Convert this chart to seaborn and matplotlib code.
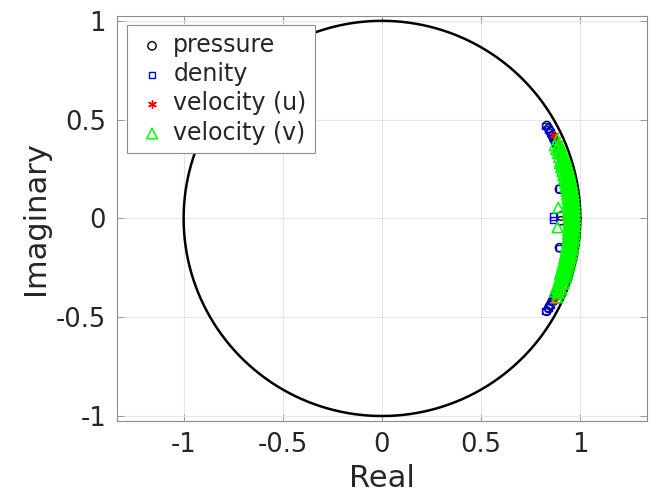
import numpy as np
import pandas as pd
import matplotlib
matplotlib.use("Agg")
import matplotlib.pyplot as plt
import seaborn as sns

# Eigenvalues of the amplification matrix, per variable (real, imaginary)
pressure_re = [0.831, 0.840, 0.848, 0.858, 0.867, 0.876, 0.885, 0.892, 0.900, 0.907,
               0.916, 0.924, 0.932, 0.938, 0.895, 0.947, 0.951, 0.953, 0.955, 0.902,
               0.831, 0.840, 0.848, 0.858, 0.867, 0.876, 0.885, 0.892, 0.900, 0.907,
               0.916, 0.924, 0.932, 0.938, 0.895, 0.947, 0.951, 0.953, 0.955, 0.902]
pressure_im = [0.470, 0.455, 0.440, 0.420, 0.400, 0.380, 0.360, 0.340, 0.320, 0.300,
               0.270, 0.240, 0.210, 0.180, 0.148, 0.120, 0.090, 0.060, 0.030, 0.012,
               -0.470, -0.455, -0.440, -0.420, -0.400, -0.380, -0.360, -0.340, -0.320, -0.300,
               -0.270, -0.240, -0.210, -0.180, -0.148, -0.120, -0.090, -0.060, -0.030, -0.012]

density_re = [0.826, 0.838, 0.850, 0.860, 0.870, 0.879, 0.887, 0.896, 0.904, 0.912,
              0.920, 0.928, 0.936, 0.893, 0.942, 0.945, 0.949, 0.952, 0.955, 0.864,
              0.826, 0.838, 0.850, 0.860, 0.870, 0.879, 0.887, 0.896, 0.904, 0.912,
              0.920, 0.928, 0.936, 0.893, 0.942, 0.945, 0.949, 0.952, 0.955, 0.864]
density_im = [0.468, 0.452, 0.436, 0.414, 0.392, 0.372, 0.350, 0.328, 0.306, 0.284,
              0.255, 0.226, 0.196, 0.150, 0.165, 0.135, 0.105, 0.075, 0.045, 0.008,
              -0.468, -0.452, -0.436, -0.414, -0.392, -0.372, -0.350, -0.328, -0.306, -0.284,
              -0.255, -0.226, -0.196, -0.150, -0.165, -0.135, -0.105, -0.075, -0.045, -0.008]

velocity_u_re = [0.869, 0.878, 0.887, 0.895, 0.903, 0.910, 0.917, 0.923, 0.929,
                 0.935, 0.940, 0.946, 0.952, 0.956, 0.960, 0.962, 0.964, 0.965,
                 0.869, 0.878, 0.887, 0.895, 0.903, 0.910, 0.917, 0.923, 0.929,
                 0.935, 0.940, 0.946, 0.952, 0.956, 0.960, 0.962, 0.964, 0.965]
velocity_u_im = [0.420, 0.400, 0.380, 0.360, 0.340, 0.320, 0.300, 0.280, 0.260,
                 0.240, 0.220, 0.190, 0.160, 0.130, 0.100, 0.070, 0.040, 0.010,
                 -0.420, -0.400, -0.380, -0.360, -0.340, -0.320, -0.300, -0.280, -0.260,
                 -0.240, -0.220, -0.190, -0.160, -0.130, -0.100, -0.070, -0.040, -0.010]

velocity_v_re = [0.884, 0.892, 0.906, 0.885, 0.917, 0.896, 0.928, 0.907,
                 0.934, 0.913, 0.897, 0.940, 0.919, 0.903, 0.945, 0.924, 0.909,
                 0.950, 0.929, 0.914, 0.954, 0.934, 0.918, 0.958, 0.938, 0.923,
                 0.962, 0.941, 0.926, 0.965, 0.945, 0.930, 0.968, 0.947, 0.932,
                 0.970, 0.950, 0.935, 0.972, 0.952, 0.937, 0.973, 0.953, 0.938,
                 0.974, 0.954, 0.939, 0.975, 0.955, 0.940, 0.975, 0.955, 0.940,
                 0.889, 0.885,
                 0.974, 0.954, 0.939, 0.975, 0.955, 0.940,
                 0.973, 0.953, 0.938, 0.972, 0.952, 0.937, 0.970, 0.950, 0.935,
                 0.968, 0.947, 0.932, 0.965, 0.945, 0.930, 0.962, 0.941, 0.926,
                 0.958, 0.938, 0.923, 0.954, 0.934, 0.918, 0.950, 0.929, 0.914,
                 0.945, 0.924, 0.909, 0.940, 0.919, 0.903, 0.934, 0.913, 0.897,
                 0.928, 0.907, 0.917, 0.896, 0.906, 0.885, 0.892, 0.884,
                 0.891, 0.870, 0.899, 0.878, 0.907, 0.886, 0.914, 0.893,
                 0.920, 0.899, 0.926, 0.906, 0.932, 0.911, 0.937, 0.917,
                 0.942, 0.921, 0.946, 0.926, 0.950, 0.930, 0.953, 0.933,
                 0.956, 0.936, 0.959, 0.939, 0.961, 0.941, 0.962, 0.942,
                 0.964, 0.944, 0.965, 0.944, 0.965, 0.945,
                 0.965, 0.945, 0.965, 0.944, 0.964, 0.944, 0.962, 0.942,
                 0.961, 0.941, 0.959, 0.939, 0.956, 0.936, 0.953, 0.933,
                 0.950, 0.930, 0.946, 0.926, 0.942, 0.921, 0.937, 0.917,
                 0.932, 0.911, 0.926, 0.906, 0.920, 0.899, 0.914, 0.893,
                 0.907, 0.886, 0.899, 0.878, 0.891, 0.870]
velocity_v_im = [0.400, 0.380, 0.360, 0.360, 0.330, 0.330, 0.300, 0.300,
                 0.280, 0.280, 0.280, 0.260, 0.260, 0.260, 0.240, 0.240, 0.240,
                 0.220, 0.220, 0.220, 0.200, 0.200, 0.200, 0.180, 0.180, 0.180,
                 0.160, 0.160, 0.160, 0.140, 0.140, 0.140, 0.120, 0.120, 0.120,
                 0.100, 0.100, 0.100, 0.080, 0.080, 0.080, 0.060, 0.060, 0.060,
                 0.040, 0.040, 0.040, 0.020, 0.020, 0.020, 0.000, 0.000, 0.000,
                 0.055, -0.045,
                 -0.040, -0.040, -0.040, -0.020, -0.020, -0.020,
                 -0.060, -0.060, -0.060, -0.080, -0.080, -0.080, -0.100, -0.100, -0.100,
                 -0.120, -0.120, -0.120, -0.140, -0.140, -0.140, -0.160, -0.160, -0.160,
                 -0.180, -0.180, -0.180, -0.200, -0.200, -0.200, -0.220, -0.220, -0.220,
                 -0.240, -0.240, -0.240, -0.260, -0.260, -0.260, -0.280, -0.280, -0.280,
                 -0.300, -0.300, -0.330, -0.330, -0.360, -0.360, -0.380, -0.400,
                 0.370, 0.370, 0.350, 0.350, 0.330, 0.330, 0.310, 0.310,
                 0.290, 0.290, 0.270, 0.270, 0.250, 0.250, 0.230, 0.230,
                 0.210, 0.210, 0.190, 0.190, 0.170, 0.170, 0.150, 0.150,
                 0.130, 0.130, 0.110, 0.110, 0.090, 0.090, 0.070, 0.070,
                 0.050, 0.050, 0.030, 0.030, 0.010, 0.010,
                 -0.010, -0.010, -0.030, -0.030, -0.050, -0.050, -0.070, -0.070,
                 -0.090, -0.090, -0.110, -0.110, -0.130, -0.130, -0.150, -0.150,
                 -0.170, -0.170, -0.190, -0.190, -0.210, -0.210, -0.230, -0.230,
                 -0.250, -0.250, -0.270, -0.270, -0.290, -0.290, -0.310, -0.310,
                 -0.330, -0.330, -0.350, -0.350, -0.370, -0.370]

x_ticks = [-1, -0.5, 0, 0.5, 1]
x_tick_labels = ["-1", "-0.5", "0", "0.5", "1"]
y_ticks = [-1, -0.5, 0, 0.5, 1]
y_tick_labels = ["-1", "-0.5", "0", "0.5", "1"]

sns.set_theme(style="white")
plt.rcParams["font.family"] = ["DejaVu Sans"]

fig = plt.figure(figsize=(6.62, 4.97), dpi=100)
ax = fig.add_axes([0.177, 0.153, 0.800, 0.815])

ax.grid(True, color="#e6e6e6", linewidth=0.8, zorder=0)
ax.set_axisbelow(True)

# unit circle
theta = np.linspace(0, 2 * np.pi, 721)
circle = pd.DataFrame({"re": np.cos(theta), "im": np.sin(theta)})
sns.lineplot(data=circle, x="re", y="im", sort=False, estimator=None,
             color="black", linewidth=1.8, ax=ax, zorder=2)

series = [
    ("pressure", pressure_re, pressure_im, "o", "black", 36, 1.0),
    ("denity", density_re, density_im, "s", "blue", 24, 1.0),
    ("velocity (u)", velocity_u_re, velocity_u_im, (6, 2, 0), "red", 30, 1.0),
    ("velocity (v)", velocity_v_re, velocity_v_im, "^", "#00ff00", 58, 1.1),
]
for name, re, im, mk, col, size, lw in series:
    df = pd.DataFrame({"re": re, "im": im})
    if mk in ("o", "s", "^"):
        sns.scatterplot(data=df, x="re", y="im", marker=mk, s=size,
                        facecolor="none", edgecolor=col, linewidth=lw,
                        label=name, ax=ax, zorder=3)
    else:
        sns.scatterplot(data=df, x="re", y="im", marker=mk, s=size,
                        color=col, edgecolor=col, linewidth=lw,
                        label=name, ax=ax, zorder=3)

ax.set_xlim(-1.335, 1.335)
ax.set_ylim(-1.025, 1.025)
ax.set_xticks(x_ticks)
ax.set_xticklabels(x_tick_labels)
ax.set_yticks(y_ticks)
ax.set_yticklabels(y_tick_labels)

tick_col = "#262626"
ax.tick_params(axis="both", direction="in", length=5, width=0.6,
               color="#8c8c8c", labelsize=18.5, labelcolor=tick_col, pad=8)
ax.tick_params(top=True, right=True, bottom=True, left=True)
for sp in ax.spines.values():
    sp.set_color("#8c8c8c")
    sp.set_linewidth(0.8)

ax.set_xlabel("Real", fontsize=22, color=tick_col, labelpad=4)
ax.set_ylabel("Imaginary", fontsize=22, color=tick_col, labelpad=4)

leg = ax.legend(loc="upper left", bbox_to_anchor=(0.019, 0.978), fontsize=17,
                frameon=True, fancybox=False, edgecolor="#8c8c8c",
                framealpha=1, borderpad=0.35, labelspacing=0.22,
                handletextpad=0.2, handlelength=1.4, borderaxespad=0)
leg.get_frame().set_linewidth(0.8)

fig.savefig("out.png", dpi=100)
